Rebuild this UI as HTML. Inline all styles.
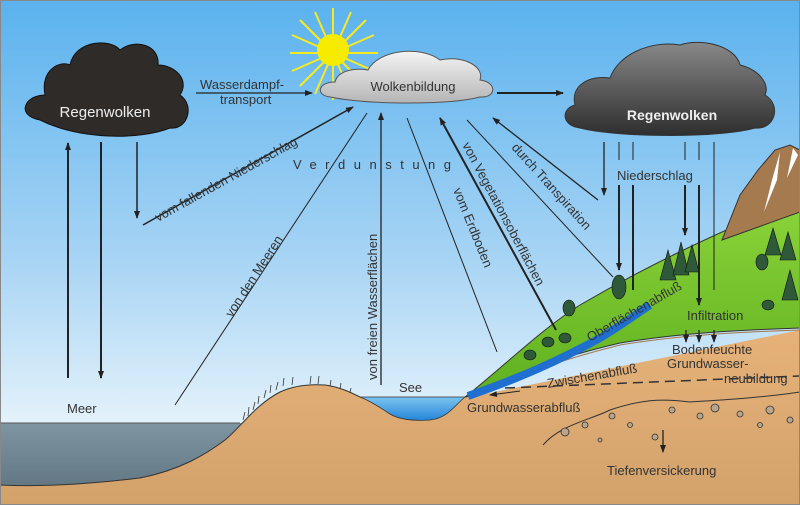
<!DOCTYPE html>
<html><head><meta charset="utf-8"><style>
html,body{margin:0;padding:0;background:#fff}
svg{display:block}
text{font-family:"Liberation Sans",sans-serif;fill:#333}
</style></head><body>
<svg width="800" height="505" viewBox="0 0 800 505" xmlns="http://www.w3.org/2000/svg">
<defs>
<linearGradient id="sky" x1="0" y1="0" x2="0" y2="1"><stop offset="0" stop-color="#5ab2ee"/><stop offset="0.5" stop-color="#a5d3f4"/><stop offset="0.85" stop-color="#e6f3fb"/><stop offset="1" stop-color="#f2f9fd"/></linearGradient>
<linearGradient id="sea" x1="0" y1="0" x2="0" y2="1"><stop offset="0" stop-color="#7e95a2"/><stop offset="1" stop-color="#5b6f7b"/></linearGradient>
<linearGradient id="sand" x1="0" y1="0" x2="0" y2="1"><stop offset="0" stop-color="#e6b27a"/><stop offset="1" stop-color="#d2a26a"/></linearGradient>
<linearGradient id="dk" x1="0" y1="0" x2="0" y2="1"><stop offset="0" stop-color="#888"/><stop offset="1" stop-color="#2e2e2e"/></linearGradient>
<linearGradient id="lt" x1="0" y1="0" x2="0" y2="1"><stop offset="0" stop-color="#f4f4f4"/><stop offset="1" stop-color="#b5b5b5"/></linearGradient>
<linearGradient id="grass" x1="0" y1="0" x2="0" y2="1"><stop offset="0" stop-color="#8cd43a"/><stop offset="1" stop-color="#5fb020"/></linearGradient>
<linearGradient id="lake" x1="0" y1="0" x2="0" y2="1"><stop offset="0" stop-color="#7cc4ef"/><stop offset="1" stop-color="#2585d8"/></linearGradient>
<marker id="ah" markerWidth="8" markerHeight="8" refX="7" refY="4" orient="auto" markerUnits="userSpaceOnUse"><path d="M0,1 L8,4 L0,7 Z" fill="#222"/></marker>
</defs>
<rect width="800" height="505" fill="url(#sky)"/>
<!-- sea -->
<rect x="0" y="423" width="260" height="82" fill="url(#sea)"/>
<line x1="0" y1="423" x2="240" y2="423" stroke="#555" stroke-width="1"/>
<!-- sand underground -->
<path d="M0,485 C40,487 90,484 140,478 C180,470 205,455 225,440 C240,428 255,405 280,392 C295,385 310,384 325,385 C340,387 352,393 360,397 L470,397 L800,330 L800,505 L0,505 Z" fill="url(#sand)"/>
<path d="M0,485 C40,487 90,484 140,478 C180,470 205,455 225,440 C240,428 255,405 280,392 C295,385 310,384 325,385 C340,387 352,393 360,397" fill="none" stroke="#333" stroke-width="1"/>
<!-- grass tufts on hill -->
<g stroke="#333" stroke-width="0.8">
<path d="M243,420 l2,-8 M248,416 l1,-9 M253,410 l2,-8 M258,404 l1,-8 M264,398 l2,-8 M270,393 l1,-8 M276,390 l2,-8 M283,386 l1,-8 M292,385 l1,-8 M310,384 l1,-8 M318,384 l1,-8 M330,386 l1,-6 M340,389 l1,-6 M350,393 l1,-5"/></g>
<!-- lake -->
<path d="M360,397 L465,397 C455,405 448,418 430,420 C415,421 400,420 390,414 C378,406 368,400 360,397 Z" fill="url(#lake)" stroke="#333" stroke-width="0.8"/>
<!-- soil boundary -->
<path d="M468,395 C520,375 560,360 620,345 C680,335 740,332 800,330" fill="none" stroke="#a07850" stroke-width="1"/>
<!-- green slope -->
<path d="M465,397 C500,370 540,330 580,305 C640,270 700,240 800,198 L800,328 C740,330 680,333 620,343 C560,357 520,372 470,396 Z" fill="url(#grass)" stroke="#333" stroke-width="1"/>
<!-- mountain -->
<path d="M722,240 L740,195 L758,170 L775,150 L790,145 L800,150 L800,212 Z" fill="#a57a4e" stroke="#333" stroke-width="1"/>
<path d="M780,152 L772,180 L764,212 L777,180 Z M793,148 L787,178 L798,155 Z" fill="#fff"/>
<!-- river -->
<path d="M468,396 C520,378 560,360 600,338 C620,326 635,315 650,305" fill="none" stroke="#1f6fd0" stroke-width="8"/>
<!-- water table dashed -->
<path d="M505,388 L800,376" stroke="#333" stroke-width="1.5" stroke-dasharray="10,6" fill="none"/>
<!-- gravel -->
<path d="M543,445 C560,425 590,420 610,410 C640,400 660,398 690,402 C720,400 760,398 800,392" fill="none" stroke="#333" stroke-width="1"/>
<g fill="#b9a48c" stroke="#333" stroke-width="0.8">
<circle cx="565" cy="432" r="4"/><circle cx="585" cy="425" r="3"/><circle cx="612" cy="416" r="3"/><circle cx="630" cy="425" r="2.5"/><circle cx="672" cy="410" r="3"/><circle cx="700" cy="416" r="3"/><circle cx="715" cy="408" r="4"/><circle cx="740" cy="414" r="3"/><circle cx="770" cy="410" r="4"/><circle cx="790" cy="420" r="3"/><circle cx="655" cy="437" r="3"/><circle cx="760" cy="425" r="2.5"/><circle cx="600" cy="440" r="2"/></g>
<!-- trees -->
<g fill="#2f5a3a" stroke="#111" stroke-width="0.6">
<path d="M660,280 L668,250 L676,280Z"/><path d="M673,275 L681,242 L689,275Z"/><path d="M685,272 L692,245 L699,272Z"/>
<path d="M765,255 L773,228 L781,255Z"/><path d="M780,260 L788,232 L796,260Z"/><path d="M782,300 L790,270 L798,300Z"/>
<ellipse cx="619" cy="287" rx="7" ry="12"/><ellipse cx="762" cy="262" rx="6" ry="8"/>
<ellipse cx="569" cy="308" rx="6" ry="8"/><ellipse cx="548" cy="342" rx="6" ry="5"/><ellipse cx="565" cy="338" rx="6" ry="5"/><ellipse cx="530" cy="355" rx="6" ry="5"/><ellipse cx="768" cy="305" rx="6" ry="5"/></g>
<!-- clouds -->
<path d="M40,120 C15,115 25,95 45,95 C40,70 60,60 70,65 C75,40 110,38 120,50 C135,38 160,45 158,65 C175,65 190,80 180,95 C195,105 188,130 170,128 C140,140 80,140 40,120 Z" fill="#2f2b29" stroke="#111"/>
<g stroke="#f7ea20" stroke-width="2">
<line x1="290" y1="53" x2="378" y2="53"/><line x1="333" y1="8" x2="333" y2="100"/>
<line x1="300" y1="20" x2="366" y2="86"/><line x1="366" y1="20" x2="300" y2="86"/>
<line x1="315" y1="12" x2="351" y2="94"/><line x1="351" y1="12" x2="315" y2="94"/>
<line x1="292" y1="35" x2="374" y2="71"/><line x1="374" y1="35" x2="292" y2="71"/></g>
<circle cx="333" cy="50" r="16" fill="#f7ec00"/>
<path d="M330,97 C315,95 318,82 335,82 C338,70 355,68 368,70 C378,50 420,45 440,60 C460,55 485,65 480,80 C497,82 497,98 480,97 C450,105 370,105 330,97 Z" fill="url(#lt)" stroke="#555"/>
<path d="M580,128 C560,125 562,108 575,105 C570,85 590,75 610,78 C618,55 650,40 680,45 C700,38 735,45 740,65 C760,70 770,85 765,95 C782,105 775,130 755,128 C720,138 620,138 580,128 Z" fill="url(#dk)" stroke="#333"/>
<!-- arrows -->
<g stroke="#222" fill="none">
<line x1="68" y1="378" x2="68" y2="143" stroke-width="2" marker-end="url(#ah)"/>
<line x1="101" y1="142" x2="101" y2="378" stroke-width="2" marker-end="url(#ah)"/>
<line x1="137" y1="142" x2="137" y2="218" stroke-width="1.5" marker-end="url(#ah)"/>
<line x1="143" y1="225" x2="353" y2="107" stroke-width="1.5" marker-end="url(#ah)"/>
<line x1="196" y1="93" x2="312" y2="93" stroke-width="1.3" marker-end="url(#ah)"/>
<line x1="497" y1="93" x2="563" y2="93" stroke-width="2" marker-end="url(#ah)"/>
<line x1="175" y1="405" x2="367" y2="113" stroke-width="1"/>
<line x1="381" y1="385" x2="381" y2="113" stroke-width="1.3" marker-end="url(#ah)"/>
<line x1="497" y1="352" x2="407" y2="118" stroke-width="1"/>
<line x1="556" y1="330" x2="440" y2="118" stroke-width="2" marker-end="url(#ah)"/>
<line x1="613" y1="277" x2="467" y2="120" stroke-width="1"/>
<line x1="598" y1="200" x2="493" y2="118" stroke-width="1.3" marker-end="url(#ah)"/>
<line x1="604" y1="142" x2="604" y2="195" stroke-width="1.3" marker-end="url(#ah)"/>
<line x1="619" y1="142" x2="619" y2="160" stroke-width="1"/><line x1="633" y1="142" x2="633" y2="160" stroke-width="1"/>
<line x1="685" y1="142" x2="685" y2="160" stroke-width="1"/><line x1="699" y1="142" x2="699" y2="160" stroke-width="1"/>
<line x1="619" y1="185" x2="619" y2="270" stroke-width="2" marker-end="url(#ah)"/>
<line x1="633" y1="185" x2="633" y2="290" stroke-width="2"/>
<line x1="685" y1="185" x2="685" y2="235" stroke-width="2" marker-end="url(#ah)"/>
<line x1="699" y1="185" x2="699" y2="305" stroke-width="2" marker-end="url(#ah)"/>
<line x1="714" y1="142" x2="714" y2="290" stroke-width="1"/>
<line x1="686" y1="330" x2="686" y2="342" stroke-width="1.3" marker-end="url(#ah)"/>
<line x1="699" y1="330" x2="699" y2="342" stroke-width="1.3" marker-end="url(#ah)"/>
<line x1="714" y1="330" x2="714" y2="342" stroke-width="1.3" marker-end="url(#ah)"/>
<line x1="663" y1="430" x2="663" y2="452" stroke-width="1.3" marker-end="url(#ah)"/>
<line x1="520" y1="391" x2="490" y2="395" stroke-width="1" marker-end="url(#ah)"/>
</g>
<!-- labels -->
<text x="105" y="117" font-size="15" style="fill:#eee" text-anchor="middle">Regenwolken</text>
<text x="672" y="120" font-size="14" font-weight="bold" style="fill:#eee" text-anchor="middle">Regenwolken</text>
<text x="413" y="91" font-size="13" text-anchor="middle">Wolkenbildung</text>
<text x="200" y="89" font-size="13">Wasserdampf-</text>
<text x="220" y="104" font-size="13">transport</text>
<text x="293" y="169" font-size="13" letter-spacing="8.5">Verdunstung</text>
<text x="617" y="180" font-size="13">Niederschlag</text>
<text transform="translate(158,222) rotate(-29)" font-size="13">vom fallenden Niederschlag</text>
<text transform="translate(232,318) rotate(-57)" font-size="13">von den Meeren</text>
<text transform="translate(377,380) rotate(-90)" font-size="13">von freien Wasserflächen</text>
<text transform="translate(453,190) rotate(68)" font-size="13">vom Erdboden</text>
<text transform="translate(462,145) rotate(62)" font-size="13">von Vegetationsoberflächen</text>
<text transform="translate(511,148) rotate(48)" font-size="13">durch Transpiration</text>
<text transform="translate(590,342) rotate(-30)" font-size="13">Oberflächenabfluß</text>
<text x="687" y="320" font-size="13">Infiltration</text>
<text x="672" y="354" font-size="13">Bodenfeuchte</text>
<text x="667" y="368" font-size="13">Grundwasser-</text>
<text x="724" y="383" font-size="13">neubildung</text>
<text transform="translate(548,388) rotate(-10)" font-size="13">Zwischenabfluß</text>
<text x="467" y="412" font-size="13">Grundwasserabfluß</text>
<text x="607" y="475" font-size="13">Tiefenversickerung</text>
<text x="399" y="392" font-size="13">See</text>
<text x="67" y="413" font-size="13">Meer</text>
<rect x="0.5" y="0.5" width="799" height="504" fill="none" stroke="#888"/>
</svg>
</body></html>
